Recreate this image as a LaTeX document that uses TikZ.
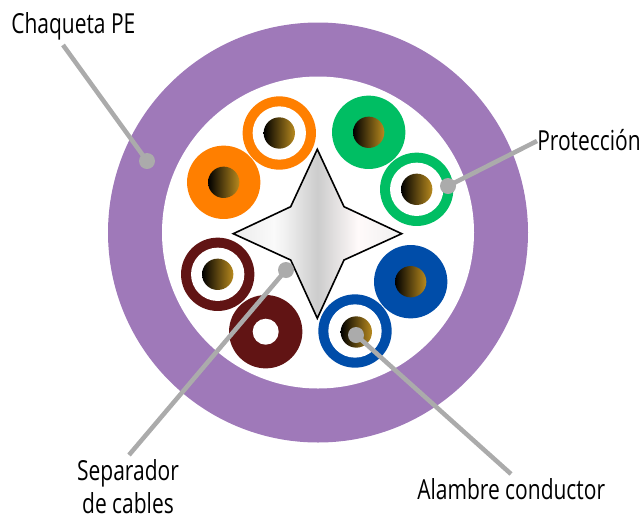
\documentclass[tikz,border=0pt]{standalone}
\usepackage{fontspec}
\setmainfont[FakeStretch=0.76]{Open Sans}
\definecolor{jacket}{HTML}{9F79B9}
\definecolor{corange}{HTML}{FF7F00}
\definecolor{cgreen}{HTML}{00BE63}
\definecolor{cblue}{HTML}{004DA9}
\definecolor{cmaroon}{HTML}{611414}
\definecolor{leader}{HTML}{ABABAB}
\pgfdeclarehorizontalshading{starshade}{100bp}{
  rgb(0bp)=(.92,.92,.92);
  rgb(25bp)=(.92,.92,.92);
  rgb(37bp)=(.98,.98,.98);
  rgb(40bp)=(.95,.95,.95);
  rgb(50bp)=(.80,.80,.80);
  rgb(62bp)=(1,.98,.98);
  rgb(75bp)=(.94,.94,.94);
  rgb(100bp)=(.94,.94,.94)}
\pgfdeclarehorizontalshading{coreshade}{100bp}{
  rgb(0bp)=(0,0,0);
  rgb(25bp)=(0,0,0);
  rgb(75bp)=(.72,.54,.12);
  rgb(100bp)=(.72,.54,.12)}
\tikzset{
  x=0.75pt,y=-0.75pt,
  disc/.style={circle,inner sep=0pt,minimum size=55pt,fill=#1},
  hole/.style={circle,inner sep=0pt,minimum size=40pt,fill=white},
  core/.style={circle,inner sep=0pt,minimum size=23.5pt,shading=coreshade},
  dot/.style={circle,inner sep=0pt,minimum size=12pt,fill=leader},
  leaderline/.style={draw=leader,line width=3.4pt},
  lab/.style={inner sep=0pt,font=\fontsize{20.7pt}{24.4pt}\selectfont,text=black,align=center}
}
\begin{document}
\begin{tikzpicture}
\useasboundingbox (0,0) rectangle (643,515);
\node[circle,inner sep=0pt,minimum size=315pt,fill=jacket] (jacket) at (318,232.5) {};
\node[circle,inner sep=0pt,minimum size=234pt,fill=white] (gap) at (318,232.5) {};

% orange pair
\node[disc=corange] (w1) at (223.7,182.3) {};
\node[core] (c1) at (223.7,182.3) {};
\node[disc=corange] (w2) at (279.3,133) {};
\node[hole] (h2) at (279.3,133) {};
\node[core] (c2) at (279.3,133) {};
% green pair
\node[disc=cgreen] (w3) at (368.7,132.3) {};
\node[core] (c3) at (368.7,132.3) {};
\node[disc=cgreen] (w4) at (416.7,189.3) {};
\node[hole] (h4) at (416.7,189.3) {};
\node[core] (c4) at (416.7,189.3) {};
% blue pair
\node[disc=cblue] (w5) at (410.7,281.7) {};
\node[core] (c5) at (410.7,281.7) {};
\node[disc=cblue] (w6) at (355,331) {};
\node[hole] (h6) at (355,331) {};
\node[core] (c6) at (356.3,332) {};
% maroon pair
\node[disc=cmaroon] (w7) at (265.7,331.7) {};
\node[hole,minimum size=19.5pt] (h7) at (265.7,331.7) {};
\node[disc=cmaroon] (w8) at (217.7,274.3) {};
\node[hole] (h8) at (217.7,274.3) {};
\node[core] (c8) at (217.7,274.3) {};

% separator star
\path[draw=black,line width=1.2pt,line join=miter,shading=starshade]
  (317.3,149.3) -- (344,206.7) -- (401.7,233.7) -- (344,260) -- (317.3,318.3)
  -- (290.7,260) -- (233.3,233.7) -- (290.7,206.7) -- cycle;

% labels
\node[lab,anchor=base west] (chaqueta) at (11,33) {Chaqueta PE};
\node[lab,anchor=base west] (proteccion) at (537,150) {Protección};
\node[lab,anchor=base] (separador) at (128,513) {Separador\\de cables};
\node[lab,anchor=base west] (alambre) at (417,499) {Alambre conductor};

% leaders
\node[dot] (d1) at (147,161) {};
\node[dot] (d2) at (448,186) {};
\node[dot] (d3) at (286,270) {};
\node[dot] (d4) at (356,335) {};
\coordinate (e1) at (63,45);
\coordinate (e2) at (537,141);
\coordinate (e3) at (129,455);
\coordinate (e4) at (511,474);
\draw[leaderline] (e1) -- (d1.center);
\draw[leaderline] (e2) -- (d2.center);
\draw[leaderline] (e3) -- (d3.center);
\draw[leaderline] (e4) -- (d4.center);
\end{tikzpicture}
\end{document}
